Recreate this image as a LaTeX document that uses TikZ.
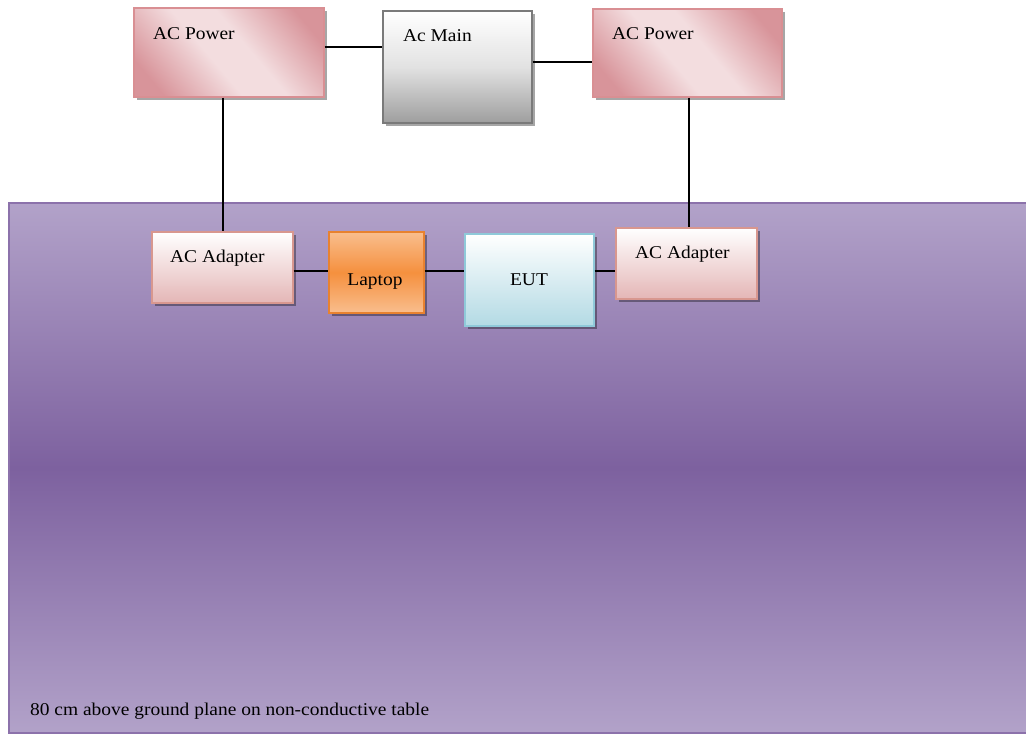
\documentclass[tikz,border=0pt]{standalone}
\usepackage{fontspec}
\setmainfont[FakeStretch=1.08]{Liberation Serif}
\usetikzlibrary{shadows}
\definecolor{tabtop}{HTML}{B2A2C9}
\definecolor{tabmid}{HTML}{7D619F}
\definecolor{tabedge}{HTML}{8C72AB}
\definecolor{pwrdark}{HTML}{D8949A}
\definecolor{pwrlight}{HTML}{F3DDDF}
\definecolor{pwredge}{HTML}{D98F93}
\definecolor{adbot}{HTML}{E4B6B6}
\definecolor{adedge}{HTML}{D8978F}
\definecolor{laptop}{HTML}{F5903E}
\definecolor{laptoplight}{HTML}{F9BE8E}
\definecolor{laptopedge}{HTML}{E8822F}
\definecolor{eutbot}{HTML}{B3DAE4}
\definecolor{eutedge}{HTML}{8FC9D9}
\definecolor{mainbot}{HTML}{9E9E9E}
\definecolor{mainedge}{HTML}{7A7A7A}
\pgfdeclareverticalshading{pwrshade}{100bp}{color(0bp)=(pwrdark); color(23bp)=(pwrdark); color(44bp)=(pwrlight); color(56bp)=(pwrlight); color(77bp)=(pwrdark); color(100bp)=(pwrdark)}
\tikzset{
  x=1pt, y=-1pt,
  box/.style={rectangle, inner sep=0pt, line width=1.2pt,
    drop shadow={shadow xshift=3pt, shadow yshift=-3pt, fill=black, opacity=0.35}},
  pwrbox/.style={box, draw=pwredge, shading=pwrshade, shading angle=-50},
  mainbox/.style={box, draw=mainedge, shading=axis,
    top color=white, bottom color=mainbot, middle color=white!70!mainbot},
  adbox/.style={box, draw=adedge, shading=axis,
    top color=white, bottom color=adbot},
  lapbox/.style={box, draw=laptopedge, shading=axis,
    top color=laptoplight, bottom color=laptoplight, middle color=laptop},
  eutbox/.style={box, draw=eutedge, shading=axis,
    top color=white, bottom color=eutbot},
  wire/.style={draw=black, line width=1.3pt},
  lbl/.style={inner sep=0pt, font=\fontsize{18pt}{20pt}\selectfont, text=black},
}
\begin{document}
\begin{tikzpicture}
\useasboundingbox (0,0) rectangle (1026,734);
\fill[white] (0,0) rectangle (1026,734);
% table
\begin{scope}
\clip (0,0) rectangle (1026,734);
\path[shading=axis, top color=tabtop, bottom color=tabtop, middle color=tabmid,
  draw=tabedge, line width=2pt] (9,203) rectangle (1040,733);
\end{scope}
% boxes
\node[pwrbox, minimum width=190pt, minimum height=89pt] (pwrL) at (229,52.5) {};
\node[mainbox, minimum width=149pt, minimum height=112pt] (main) at (457.5,67) {};
\node[pwrbox, minimum width=189pt, minimum height=88pt] (pwrR) at (687.5,53) {};
\node[adbox, minimum width=141pt, minimum height=71pt] (adL) at (222.5,267.5) {};
\node[lapbox, minimum width=95pt, minimum height=81pt] (lap) at (376.5,272.5) {};
\node[eutbox, minimum width=129pt, minimum height=92pt] (eut) at (529.5,280) {};
\node[adbox, minimum width=141pt, minimum height=71pt] (adR) at (686.5,263.5) {};
% labels
\node[lbl, anchor=base west] (tpL) at (153,39) {AC Power};
\node[lbl, anchor=base west] (tmain) at (403,41) {Ac Main};
\node[lbl, anchor=base west] (tpR) at (612,39) {AC Power};
\node[lbl, anchor=base west] (taL) at (170,262) {AC Adapter};
\node[lbl, anchor=base] (tlap) at (375,285) {Laptop};
\node[lbl, anchor=base] (teut) at (529,285) {EUT};
\node[lbl, anchor=base west] (taR) at (635,258) {AC Adapter};
\node[lbl, anchor=base west] (ttab) at (30,715) {80 cm above ground plane on non-conductive table};
% wires
\draw[wire] ([yshift=5.5pt]pwrL.east) -- ([yshift=5.5pt]pwrL.east -| main.west);
\draw[wire] ([yshift=5pt]main.east) -- ([yshift=5pt]main.east -| pwrR.west);
\draw[wire] ([xshift=-6pt]pwrL.south) -- ([xshift=-6pt]pwrL.south |- adL.north);
\draw[wire] ([xshift=1.5pt]pwrR.south) -- ([xshift=1.5pt]pwrR.south |- adR.north);
\draw[wire] ([yshift=-3.5pt]adL.east) -- ([yshift=-3.5pt]adL.east -| lap.west);
\draw[wire] ([yshift=1.5pt]lap.east) -- ([yshift=1.5pt]lap.east -| eut.west);
\draw[wire] ([yshift=9pt]eut.east) -- ([yshift=9pt]eut.east -| adR.west);
\end{tikzpicture}
\end{document}
